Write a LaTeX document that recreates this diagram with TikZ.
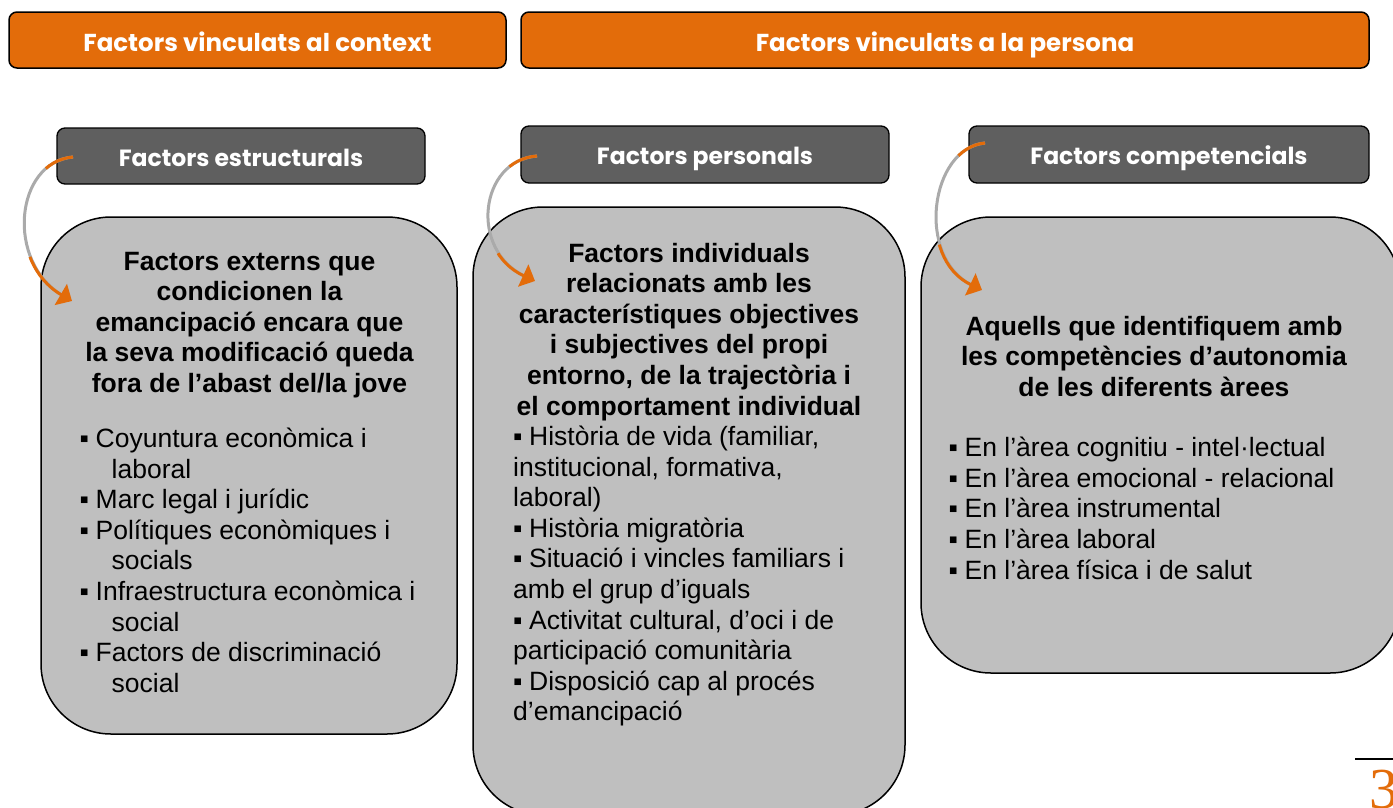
\documentclass[tikz,border=0pt]{standalone}
\usepackage{fontspec}
\setmainfont{Liberation Sans}
\newfontfamily\hfont{Poppins}
\newfontfamily\pnfont{Liberation Serif}
\usetikzlibrary{arrows.meta}
\definecolor{orng}{RGB}{227,108,10}
\definecolor{dgray}{RGB}{95,95,95}
\definecolor{lgray}{RGB}{191,191,191}
\definecolor{sgray}{RGB}{170,170,170}
\newcommand\bulsq{\makebox[16pt][l]{▪}}
\begin{document}
\begin{tikzpicture}[x=1pt,y=-1pt,
  hdr/.style={draw=black, line width=1.5pt, fill=orng, rounded corners=8pt, text=white,
    font=\hfont\bfseries\fontsize{24.5}{26}\selectfont, inner sep=0pt, text height=27pt, text depth=4pt},
  subbox/.style={draw=black, line width=1.3pt, fill=dgray, rounded corners=8pt, text=white,
    font=\hfont\bfseries\fontsize{23.5}{26}\selectfont, inner sep=0pt, text height=24pt, text depth=4pt},
  card/.style={draw=black, line width=1.5pt, fill=lgray, rounded corners=70pt, inner sep=0pt},
  headtxt/.style={font=\bfseries\fontsize{26.5}{30.6}\selectfont, inner sep=0pt, anchor=base},
  listtxt/.style={font=\fontsize{26.5}{30.6}\selectfont, inner sep=0pt, anchor=base west},
  shadowline/.style={draw=sgray, line width=3pt},
  orngline/.style={draw=orng, line width=3pt, dash pattern=on 30pt off 95pt on 200pt},
  tipstyle/.style={-{Triangle[length=13pt,width=24pt]}}
]
\clip (0,0) rectangle (1393,807);
\useasboundingbox (0,0) rectangle (1393,807);

% top headers
\node[hdr, minimum width=497pt, minimum height=56pt] (h1) at (257.5,40) {Factors vinculats al context};
\node[hdr, minimum width=848pt, minimum height=56pt] (h2) at (945,40) {Factors vinculats a la persona};

% cards
\node[card, minimum width=416pt, minimum height=517pt] (c1) at (249,475.5) {};
\node[card, minimum width=432pt, minimum height=608pt] (c2) at (689,511) {};
\node[card, minimum width=479pt, minimum height=456pt] (c3) at (1160.5,445) {};

% sub headers
\node[subbox, minimum width=368pt, minimum height=56pt] (s1) at (241,156) {Factors estructurals};
\node[subbox, minimum width=368pt, minimum height=57pt] (s2) at (705,154.5) {Factors personals};
\node[subbox, minimum width=400pt, minimum height=57pt] (s3) at (1169,154.5) {Factors competencials};

% card texts
\node[headtxt] (t1) at (249.5,270) {\parbox[t]{410pt}{\centering
Factors externs que\\condicionen la\\emancipació encara que\\la seva modificació queda\\fora de l’abast del/la jove}};
\node[listtxt] (l1) at (79.5,447.5) {\parbox[t]{370pt}{\raggedright
\bulsq Coyuntura econòmica i\\\hspace*{32pt}laboral\\
\bulsq Marc legal i jurídic\\
\bulsq Polítiques econòmiques i\\\hspace*{32pt}socials\\
\bulsq Infraestructura econòmica i\\\hspace*{32pt}social\\
\bulsq Factors de discriminació\\\hspace*{32pt}social}};

\node[headtxt] (t2) at (689,262) {\parbox[t]{425pt}{\centering
Factors individuals\\relacionats amb les\\característiques objectives\\i subjectives del propi\\entorno, de la trajectòria i\\el comportament individual}};
\node[listtxt] (l2) at (513,445.5) {\parbox[t]{380pt}{\raggedright
\bulsq Història de vida (familiar,\\institucional, formativa,\\laboral)\\
\bulsq Història migratòria\\
\bulsq Situació i vincles familiars i\\amb el grup d’iguals\\
\bulsq Activitat cultural, d’oci i de\\participació comunitària\\
\bulsq Disposició cap al procés\\d’emancipació}};

\node[headtxt] (t3) at (1154,335) {\parbox[t]{440pt}{\centering
Aquells que identifiquem amb\\les competències d’autonomia\\de les diferents àrees}};
\node[listtxt] (l3) at (948.5,456.7) {\parbox[t]{430pt}{\raggedright
\bulsq En l’àrea cognitiu - intel·lectual\\
\bulsq En l’àrea emocional - relacional\\
\bulsq En l’àrea instrumental\\
\bulsq En l’àrea laboral\\
\bulsq En l’àrea física i de salut}};

% curved arrows
\coordinate (a1s) at (73,157);
\coordinate (a1e) at (72,301);
\coordinate (a2s) at (537,156);
\coordinate (a2e) at (535,281);
\coordinate (a3s) at (985,143);
\coordinate (a3e) at (982,290);

\foreach \s/\e/\pa/\pb in {a1s/a1e/{15,162}/{5,262}, a2s/a2e/{480,160}/{468,250}, a3s/a3e/{930,148}/{915,258}}{
  \draw[shadowline, shorten >=10pt] (\s) .. controls (\pa) and (\pb) .. (\e);
  \draw[orngline, tipstyle] (\s) .. controls (\pa) and (\pb) .. (\e);
}

% page number
\coordinate (pl1) at (1355,759);
\coordinate (pl2) at (1393,759);
\draw[line width=2pt] (pl1) -- (pl2);
\node[text=orng, font=\pnfont\fontsize{58}{60}\selectfont, anchor=base west, inner sep=0pt] (pn) at (1369,808) {3};
\end{tikzpicture}
\end{document}
